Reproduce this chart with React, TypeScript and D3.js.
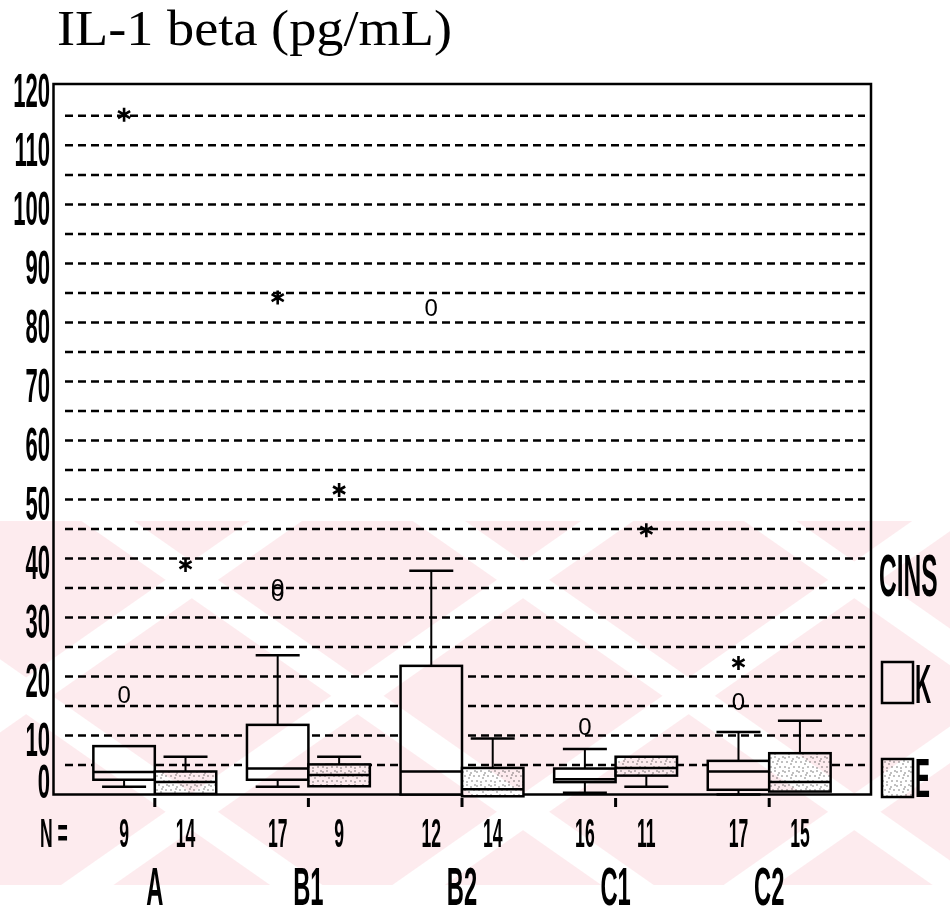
import React from 'react';
import * as d3 from 'd3';

// IL-1 beta boxplots, K (control) vs E per group
const groups = ['A', 'B1', 'B2', 'C1', 'C2'];
const nK = [9, 17, 12, 16, 17];
const nE = [14, 9, 14, 11, 15];
// [lower whisker, q1, median, q3, upper whisker]
const statsK = [
  [1.3, 2.5, 3.8, 8.2, 8.2],
  [1.3, 2.5, 4.4, 11.8, 23.6],
  [0, 0, 3.9, 21.8, 37.9],
  [0.3, 2.1, 2.6, 4.4, 7.7],
  [0, 0.8, 3.9, 5.7, 10.6],
];
const statsE = [
  [0.1, 0.1, 2.1, 3.9, 6.4],
  [1.4, 1.4, 3.3, 5.1, 6.4],
  [-0.3, -0.3, 0.9, 4.5, 9.5],
  [1.3, 3.2, 4.5, 6.4, 6.4],
  [0.5, 0.5, 2.1, 7.0, 12.5],
];
// outliers (o) and extremes (*)
const outK = [[16.9], [34.2, 35.0], [82.6], [11.5], [15.7]];
const extK = [[115.2], [84.2], [], [], [22.3]];
const outE = [[], [], [], [], []];
const extE = [[38.9], [51.6], [], [44.8], []];
const yTicks = [0, 10, 20, 30, 40, 50, 60, 70, 80, 90, 100, 110, 120];
const gridVals = d3.range(5, 120, 5);

const W = 950;
const H = 916;
const left = 53.5;
const right = 871;
const top = 84;
const bottom = 794.5;

const y = d3.scaleLinear().domain([0, 120.4]).range([bottom, top]);
const x = d3.scaleBand().domain(groups).range([78, 846]).paddingInner(0);
const bw = x.bandwidth();
const boxW = bw * 0.4;
const capW = 44;

const stipple = [
  [1, 2], [5, 1], [9, 3], [12, 6], [3, 6], [7, 8], [1, 11], [10, 11], [5, 12], [13, 1], [8, 5],
];

const Narrow = ({ x: tx, y: ty, size, sx, anchor = 'start', children }: any) => (
  <text
    transform={`translate(${tx},${ty}) scale(${sx},1)`}
    fontFamily="Liberation Sans, Arial, sans-serif"
    fontSize={size}
    fontWeight="bold"
    textAnchor={anchor}
    fill="#000"
  >
    {children}
  </text>
);

const Star = ({ cx, cy }: any) => {
  const r = 7;
  const d = [90, 30, 150]
    .map(a => {
      const t = (a * Math.PI) / 180;
      return `M${cx - r * Math.cos(t)},${cy - r * Math.sin(t)}L${cx + r * Math.cos(t)},${cy + r * Math.sin(t)}`;
    })
    .join('');
  return <path d={d} stroke="#000" strokeWidth={2.6} fill="none" />;
};

const Box = ({ x0, s, fill }: any) => {
  const [lo, q1, med, q3, hi] = s;
  const cx = x0 + boxW / 2;
  return (
    <g stroke="#000" fill="none">
      {hi > q3 && (
        <>
          <line x1={cx} x2={cx} y1={y(q3)} y2={y(hi)} strokeWidth={2} />
          <line x1={cx - capW / 2} x2={cx + capW / 2} y1={y(hi)} y2={y(hi)} strokeWidth={2.5} />
        </>
      )}
      {lo < q1 && (
        <>
          <line x1={cx} x2={cx} y1={y(q1)} y2={y(lo)} strokeWidth={2} />
          <line x1={cx - capW / 2} x2={cx + capW / 2} y1={y(lo)} y2={y(lo)} strokeWidth={2.5} />
        </>
      )}
      <rect x={x0} y={y(q3)} width={boxW} height={y(q1) - y(q3)} fill={fill} strokeWidth={2.5} />
      <line x1={x0} x2={x0 + boxW} y1={y(med)} y2={y(med)} strokeWidth={2.5} />
    </g>
  );
};

export default function App() {
  return (
    <svg width={W} height={H} style={{ position: 'absolute', left: 0, top: 0, background: '#fff' }}>
      <defs>
        <pattern id="stip" width={14} height={14} patternUnits="userSpaceOnUse">
          <rect width={14} height={14} fill="#fff" />
          {stipple.map((p, i) => (
            <circle key={i} cx={p[0]} cy={p[1]} r={0.7} fill="#555" />
          ))}
        </pattern>
        <pattern id="wm1" width={190} height={20} patternUnits="userSpaceOnUse" patternTransform="rotate(55)">
          <rect width={30} height={20} fill="#fff" />
        </pattern>
        <pattern id="wm2" width={190} height={20} patternUnits="userSpaceOnUse" patternTransform="rotate(-55)">
          <rect width={30} height={20} fill="#fff" />
        </pattern>
      </defs>

      <text x={57} y={45} fontFamily="Liberation Serif, Times New Roman, serif" fontSize={50} textLength={395} lengthAdjust="spacingAndGlyphs">
        IL-1 beta (pg/mL)
      </text>

      {/* dashed grid */}
      {gridVals.map(v => (
        <line key={v} x1={65} x2={865} y1={y(v)} y2={y(v)} stroke="#000" strokeWidth={2.5} strokeDasharray="8,5" />
      ))}

      {/* frame */}
      <path d={`M${left},${bottom}V${top}H${right}V${bottom}Z`} fill="none" stroke="#000" strokeWidth={2.5} />

      {yTicks.map(v => (
        <Narrow key={v} x={50} y={v === 0 ? y(v) + 3 : y(v) + 21} size={48} sx={0.46} anchor="end">
          {v}
        </Narrow>
      ))}

      {groups.map((g, i) => {
        const c = (x(g) as number) + bw / 2;
        return (
          <g key={g}>
            <Box x0={c - boxW} s={statsK[i]} fill="#fff" />
            <Box x0={c} s={statsE[i]} fill="url(#stip)" />
            {outK[i].map((v, j) => (
              <text key={'ok' + j} x={c - boxW / 2} y={y(v) + 8.5} fontFamily="Liberation Sans, Arial, sans-serif" fontSize={24} textAnchor="middle">0</text>
            ))}
            {outE[i].map((v, j) => (
              <text key={'oe' + j} x={c + boxW / 2} y={y(v) + 8.5} fontFamily="Liberation Sans, Arial, sans-serif" fontSize={24} textAnchor="middle">0</text>
            ))}
            {extK[i].map((v, j) => <Star key={'ek' + j} cx={c - boxW / 2} cy={y(v)} />)}
            {extE[i].map((v, j) => <Star key={'ee' + j} cx={c + boxW / 2} cy={y(v)} />)}
            <rect x={c - 1.5} y={798} width={3} height={9} fill="#000" />
            <Narrow x={c - boxW / 2} y={847} size={40} sx={0.44} anchor="middle">{nK[i]}</Narrow>
            <Narrow x={c + boxW / 2} y={847} size={40} sx={0.44} anchor="middle">{nE[i]}</Narrow>
            <Narrow x={c} y={905} size={54} sx={0.44} anchor="middle">{g}</Narrow>
          </g>
        );
      })}

      <Narrow x={40} y={847} size={40} sx={0.44}>N =</Narrow>

      {/* legend */}
      <Narrow x={879} y={596} size={60} sx={0.41}>CINS</Narrow>
      <rect x={882} y={662} width={31} height={41} fill="#fff" stroke="#000" strokeWidth={2.5} />
      <Narrow x={915} y={703} size={56} sx={0.4}>K</Narrow>
      <rect x={882} y={759} width={31} height={38} fill="url(#stip)" stroke="#000" strokeWidth={2.5} />
      <Narrow x={915} y={797} size={56} sx={0.4}>E</Narrow>

      {/* faint watermark band */}
      <g style={{ mixBlendMode: 'multiply' }}>
        <rect x={0} y={521} width={W} height={364} fill="#fdebee" />
        <rect x={0} y={521} width={W} height={364} fill="url(#wm1)" />
        <rect x={0} y={521} width={W} height={364} fill="url(#wm2)" />
      </g>
    </svg>
  );
}
